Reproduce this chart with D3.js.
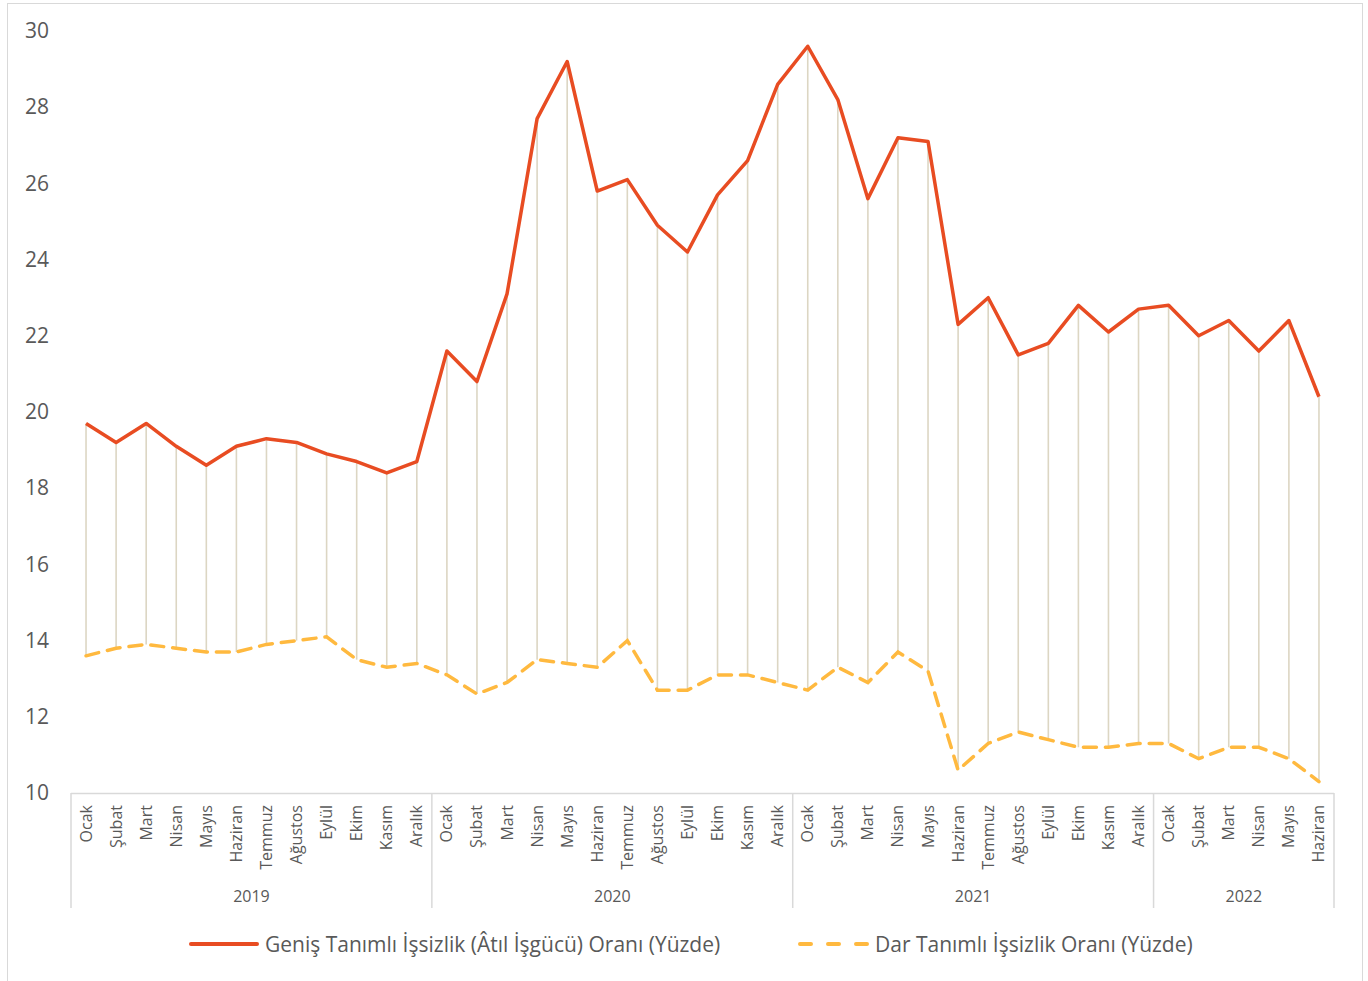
<!DOCTYPE html>
<html>
<head>
<meta charset="utf-8">
<script src="https://cdn.jsdelivr.net/npm/d3@7"></script>
<style>
  body { margin: 0; background: #fff; }
  svg text { font-family: "Open Sans", sans-serif; fill: #595959; }
</style>
</head>
<body>
<div id="chart"></div>
<script>
// data
var years = ["2019", "2020", "2021", "2022"];
var months = ["Ocak", "Şubat", "Mart", "Nisan", "Mayıs", "Haziran", "Temmuz", "Ağustos", "Eylül", "Ekim", "Kasım", "Aralık"];
var monthsPerYear = [12, 12, 12, 6];

// Geniş tanımlı (atıl işgücü) oranı
var genis = [
  19.7, 19.2, 19.7, 19.1, 18.6, 19.1, 19.3, 19.2, 18.9, 18.7, 18.4, 18.7,
  21.6, 20.8, 23.1, 27.7, 29.2, 25.8, 26.1, 24.9, 24.2, 25.7, 26.6, 28.6,
  29.6, 28.2, 25.6, 27.2, 27.1, 22.3, 23.0, 21.5, 21.8, 22.8, 22.1, 22.7,
  22.8, 22.0, 22.4, 21.6, 22.4, 20.4
];
// Dar tanımlı işsizlik oranı
var dar = [
  13.6, 13.8, 13.9, 13.8, 13.7, 13.7, 13.9, 14.0, 14.1, 13.5, 13.3, 13.4,
  13.1, 12.6, 12.9, 13.5, 13.4, 13.3, 14.0, 12.7, 12.7, 13.1, 13.1, 12.9,
  12.7, 13.3, 12.9, 13.7, 13.2, 10.6, 11.3, 11.6, 11.4, 11.2, 11.2, 11.3,
  11.3, 10.9, 11.2, 11.2, 10.9, 10.3
];
var yTicks = [10, 12, 14, 16, 18, 20, 22, 24, 26, 28, 30];
var seriesNames = ["Geniş Tanımlı İşsizlik (Âtıl İşgücü) Oranı (Yüzde)", "Dar Tanımlı İşsizlik Oranı (Yüzde)"];

var svgWidth = 1368;
var svgHeight = 981;
var red = "#e84c22";
var yellow = "#ffb93f";
var gridGray = "#d9d9d9";

// build category list (month + year)
var cats = [];
years.forEach(function(yr, yi) {
  for (var m = 0; m < monthsPerYear[yi]; m++) {
    cats.push({ year: yr, month: months[m] });
  }
});
var rows = cats.map(function(c, i) {
  return { i: i, month: c.month, year: c.year, genis: genis[i], dar: dar[i] };
});

var svg = d3.select("#chart").append("svg")
  .attr("width", svgWidth)
  .attr("height", svgHeight);

// chart frame
svg.append("rect")
  .attr("x", 7.5).attr("y", 3.5)
  .attr("width", 1355).attr("height", 990)
  .attr("fill", "none")
  .attr("stroke", gridGray)
  .attr("stroke-width", 1);

var plotLeft = 71, plotRight = 1334, plotTop = 31, plotBottom = 793;

var x = d3.scaleBand()
  .domain(d3.range(cats.length))
  .range([plotLeft, plotRight])
  .padding(0);
var xc = function(i) { return x(i) + x.bandwidth() / 2; };

var y = d3.scaleLinear()
  .domain([10, 30])
  .range([plotBottom, plotTop]);

// y axis labels (no line)
var yAxis = svg.append("g")
  .attr("transform", "translate(49,0)")
  .call(d3.axisLeft(y).tickValues(yTicks).tickSize(0).tickPadding(0));
yAxis.select(".domain").remove();
yAxis.selectAll("text")
  .style("font-size", "21px")
  .attr("fill", "#595959");

// drop lines between the two series
svg.append("g").selectAll("line")
  .data(rows)
  .enter()
  .append("line")
  .attr("x1", d => xc(d.i))
  .attr("x2", d => xc(d.i))
  .attr("y1", d => y(d.genis))
  .attr("y2", d => y(d.dar))
  .attr("stroke", "#dcd6c3")
  .attr("stroke-width", 1.6);

// x axis line
svg.append("line")
  .attr("x1", plotLeft).attr("x2", plotRight)
  .attr("y1", plotBottom + 0.5).attr("y2", plotBottom + 0.5)
  .attr("stroke", gridGray)
  .attr("stroke-width", 1.5);

// year group separators
var bounds = [0];
monthsPerYear.forEach(function(n, k) { bounds.push(bounds[k] + n); });
var bx = d => d === cats.length ? plotRight : x(d);
svg.append("g").selectAll("line")
  .data(bounds)
  .enter()
  .append("line")
  .attr("x1", bx)
  .attr("x2", bx)
  .attr("y1", plotBottom)
  .attr("y2", 908)
  .attr("stroke", gridGray)
  .attr("stroke-width", 1.5);

// month labels (rotated)
svg.append("g").selectAll("text")
  .data(rows)
  .enter()
  .append("text")
  .attr("transform", d => `translate(${xc(d.i) + 5.5}, 805) rotate(-90)`)
  .attr("text-anchor", "end")
  .style("font-size", "16px")
  .text(d => d.month);

// year labels
svg.append("g").selectAll("text")
  .data(years)
  .enter()
  .append("text")
  .attr("x", (d, k) => (bx(bounds[k]) + bx(bounds[k + 1])) / 2)
  .attr("y", 902)
  .attr("text-anchor", "middle")
  .style("font-size", "16px")
  .text(d => d);

// lines
var genisLine = d3.line().x(d => xc(d.i)).y(d => y(d.genis));
var darLine = d3.line().x(d => xc(d.i)).y(d => y(d.dar));

svg.append("path")
  .datum(rows)
  .attr("d", darLine)
  .attr("fill", "none")
  .attr("stroke", yellow)
  .attr("stroke-width", 3.5)
  .attr("stroke-dasharray", "13,9")
  .attr("stroke-linecap", "round");

svg.append("path")
  .datum(rows)
  .attr("d", genisLine)
  .attr("fill", "none")
  .attr("stroke", red)
  .attr("stroke-width", 3.5)
  .attr("stroke-linejoin", "round");

// legend
var legend = svg.append("g");
legend.append("line")
  .attr("x1", 191).attr("x2", 257)
  .attr("y1", 944).attr("y2", 944)
  .attr("stroke", red)
  .attr("stroke-width", 4)
  .attr("stroke-linecap", "round");
legend.append("text")
  .attr("x", 265).attr("y", 951.5)
  .style("font-size", "21px")
  .text(seriesNames[0]);

legend.append("line")
  .attr("x1", 800).attr("x2", 868)
  .attr("y1", 944).attr("y2", 944)
  .attr("stroke", yellow)
  .attr("stroke-width", 4)
  .attr("stroke-dasharray", "11,17")
  .attr("stroke-linecap", "round");
legend.append("text")
  .attr("x", 875).attr("y", 951.5)
  .style("font-size", "21px")
  .text(seriesNames[1]);
</script>
</body>
</html>
